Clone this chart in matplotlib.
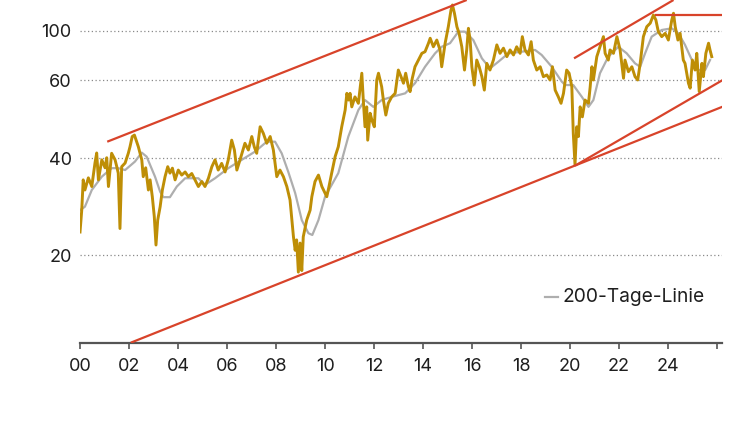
import numpy as np
import matplotlib
matplotlib.use("Agg")
import matplotlib.pyplot as plt
from matplotlib.ticker import FixedLocator, FixedFormatter, NullLocator

plt.rcParams["font.family"] = ["Inter", "DejaVu Sans"]

# ── data ─────────────────────────────────────────────────────────────
price_year = [
    2000.00, 2000.07, 2000.13, 2000.20, 2000.34, 2000.48, 2000.61, 2000.68, 2000.75, 2000.89,
    2001.02, 2001.09, 2001.16, 2001.29, 2001.43, 2001.50, 2001.56, 2001.63, 2001.70, 2001.84,
    2001.97, 2002.04, 2002.13, 2002.22, 2002.31, 2002.38, 2002.52, 2002.58, 2002.68, 2002.79,
    2002.86, 2002.95, 2003.03, 2003.10, 2003.17, 2003.27, 2003.36, 2003.47, 2003.58, 2003.67,
    2003.77, 2003.88, 2004.01, 2004.15, 2004.29, 2004.42, 2004.56, 2004.69, 2004.83, 2004.97,
    2005.10, 2005.24, 2005.38, 2005.51, 2005.64, 2005.78, 2005.92, 2006.05, 2006.19, 2006.30,
    2006.40, 2006.53, 2006.73, 2006.87, 2007.01, 2007.11, 2007.21, 2007.35, 2007.48, 2007.62,
    2007.76, 2007.89, 2008.03, 2008.16, 2008.30, 2008.44, 2008.57, 2008.71, 2008.78, 2008.84,
    2008.91, 2008.98, 2009.05, 2009.11, 2009.25, 2009.39, 2009.46, 2009.59, 2009.73, 2009.87,
    2010.07, 2010.16, 2010.27, 2010.41, 2010.54, 2010.68, 2010.82, 2010.89, 2010.96, 2011.02,
    2011.09, 2011.22, 2011.36, 2011.50, 2011.56, 2011.63, 2011.70, 2011.74, 2011.84, 2011.91,
    2012.01, 2012.11, 2012.18, 2012.31, 2012.38, 2012.48, 2012.58, 2012.72, 2012.86, 2012.99,
    2013.10, 2013.20, 2013.29, 2013.40, 2013.47, 2013.56, 2013.67, 2013.81, 2013.95, 2014.08,
    2014.22, 2014.29, 2014.42, 2014.56, 2014.69, 2014.76, 2014.90, 2015.03, 2015.14, 2015.20,
    2015.28, 2015.38, 2015.47, 2015.58, 2015.69, 2015.78, 2015.85, 2015.92, 2015.99, 2016.09,
    2016.19, 2016.29, 2016.40, 2016.50, 2016.60, 2016.73, 2016.87, 2017.01, 2017.14, 2017.28,
    2017.42, 2017.55, 2017.69, 2017.82, 2017.96, 2018.05, 2018.16, 2018.30, 2018.41, 2018.50,
    2018.64, 2018.78, 2018.91, 2019.05, 2019.18, 2019.28, 2019.39, 2019.52, 2019.63, 2019.73,
    2019.86, 2019.96, 2020.07, 2020.13, 2020.20, 2020.27, 2020.34, 2020.41, 2020.50, 2020.61,
    2020.75, 2020.82, 2020.89, 2020.95, 2021.09, 2021.22, 2021.36, 2021.43, 2021.56, 2021.63,
    2021.77, 2021.91, 2022.04, 2022.18, 2022.24, 2022.38, 2022.52, 2022.65, 2022.76, 2022.86,
    2022.99, 2023.13, 2023.27, 2023.40, 2023.50, 2023.60, 2023.74, 2023.88, 2024.01, 2024.15,
    2024.22, 2024.29, 2024.40, 2024.49, 2024.62, 2024.69, 2024.83, 2024.90, 2024.99, 2025.10,
    2025.17, 2025.27, 2025.38, 2025.44, 2025.54, 2025.65, 2025.71, 2025.78,
]
price_value = [
    23.6, 27.6, 34.3, 31.9, 34.8, 32.7, 38.7, 41.6, 34.3, 39.6,
    37.4, 40.2, 32.7, 41.5, 39.6, 37.7, 36.0, 24.2, 37.7, 38.7,
    41.5, 43.5, 46.8, 47.3, 45.1, 43.5, 39.6, 35.1, 37.4, 31.9,
    34.3, 30.4, 26.4, 21.5, 25.7, 28.3, 31.9, 35.1, 37.7, 36.0,
    37.3, 34.3, 36.8, 35.5, 36.3, 35.1, 35.9, 34.3, 32.7, 33.9,
    32.7, 34.7, 37.7, 39.6, 36.8, 38.6, 36.3, 39.6, 45.6, 42.5,
    36.8, 39.6, 44.6, 42.5, 46.8, 43.5, 41.5, 50.2, 47.9, 44.6,
    46.8, 42.5, 35.1, 36.8, 35.1, 32.7, 29.7, 22.8, 20.7, 22.3,
    17.7, 21.8, 17.9, 22.8, 25.7, 27.6, 30.4, 33.9, 35.5, 32.7,
    30.4, 32.7, 36.0, 40.5, 43.5, 50.2, 56.6, 63.8, 60.8, 63.8,
    57.9, 62.2, 59.4, 73.7, 60.8, 50.2, 57.9, 45.6, 55.3, 52.7,
    50.2, 70.2, 73.7, 66.9, 60.8, 54.6, 59.4, 62.2, 63.8, 75.4,
    71.9, 68.6, 73.7, 66.9, 64.6, 71.1, 77.2, 81.0, 85.0, 86.0,
    91.4, 94.7, 89.1, 93.5, 87.1, 77.2, 91.4, 102.9, 116.0, 120.2,
    113.3, 102.9, 98.1, 89.1, 75.4, 87.1, 101.7, 93.5, 77.2, 67.7,
    81.0, 77.2, 71.9, 65.3, 79.1, 75.4, 81.0, 90.3, 85.0, 88.2,
    83.0, 87.1, 84.0, 89.1, 85.0, 95.8, 87.1, 84.0, 92.4, 81.0,
    75.4, 77.2, 71.9, 72.8, 70.2, 77.2, 65.3, 62.2, 59.4, 63.8,
    75.4, 73.7, 66.9, 47.9, 38.2, 50.2, 46.8, 57.9, 53.9, 60.8,
    59.4, 66.9, 77.2, 70.2, 83.0, 89.1, 95.8, 85.0, 81.0, 87.1,
    85.0, 95.8, 87.1, 71.1, 81.0, 74.5, 77.2, 71.9, 70.2, 79.1,
    95.8, 102.9, 105.5, 111.9, 108.0, 99.3, 95.8, 98.1, 93.5, 108.0,
    113.3, 102.9, 93.5, 98.1, 81.0, 79.1, 68.6, 66.2, 81.0, 75.4,
    85.0, 64.6, 79.1, 71.9, 85.0, 91.4, 87.1, 83.0,
]

ma200_year = [
    2000.00, 2000.20, 2000.48, 2000.89, 2001.29, 2001.56, 2001.84, 2002.24, 2002.52, 2002.72,
    2003.06, 2003.27, 2003.40, 2003.67, 2003.95, 2004.29, 2004.83, 2005.10, 2005.51, 2006.05,
    2006.60, 2007.14, 2007.62, 2007.96, 2008.23, 2008.50, 2008.78, 2009.05, 2009.32, 2009.48,
    2009.73, 2010.00, 2010.54, 2010.95, 2011.36, 2011.63, 2011.97, 2012.31, 2012.72, 2013.27,
    2013.67, 2014.08, 2014.49, 2014.76, 2015.10, 2015.44, 2015.71, 2016.05, 2016.40, 2016.73,
    2017.07, 2017.48, 2018.03, 2018.57, 2018.84, 2019.25, 2019.66, 2019.80, 2020.13, 2020.48,
    2020.75, 2020.95, 2021.22, 2021.56, 2021.97, 2022.31, 2022.65, 2022.86, 2023.06, 2023.33,
    2023.74, 2024.15, 2024.42, 2024.69, 2024.97, 2025.24, 2025.51, 2025.71,
]
ma200_value = [
    27.6, 28.3, 31.9, 35.1, 37.3, 37.3, 36.8, 39.1, 41.7, 40.5,
    35.1, 31.5, 30.3, 30.3, 32.7, 34.7, 34.7, 33.1, 34.7, 37.3,
    39.6, 42.0, 45.1, 45.1, 41.5, 36.3, 31.2, 25.7, 23.4, 23.1,
    25.7, 30.4, 36.0, 46.8, 56.6, 60.8, 57.9, 60.8, 62.2, 63.8,
    68.6, 77.2, 85.0, 89.1, 91.4, 99.3, 99.3, 93.5, 82.0, 76.3,
    80.0, 85.0, 86.0, 87.1, 84.0, 77.2, 69.4, 67.7, 67.7, 62.2,
    57.9, 60.8, 73.7, 83.0, 89.1, 85.0, 79.1, 77.2, 85.0, 95.8,
    100.5, 101.7, 98.1, 90.3, 81.0, 75.4, 75.4, 81.0,
]

# trend lines: (start year, start value, end year, end value)
trend_upper_long = [2001.11, 45.1, 2015.78, 124.6]
trend_lower_long = [2002.07, 10.67, 2026.23, 58.0]
trend_lower_short = [2020.20, 37.97, 2026.23, 70.2]
trend_upper_short = [2020.16, 82.0, 2024.22, 124.6]
trend_top_flat = [2023.47, 111.9, 2026.23, 111.9]

ytick_values = [20, 40, 70, 100]
ytick_labels = ["20", "40", "60", "100"]
xtick_years = list(range(2000, 2027, 2))
xtick_labels = [f"{y % 100:02d}" for y in range(2000, 2025, 2)] + [""]

GOLD = "#BE8E06"
GREY = "#AEAEAE"
RED = "#D8432A"
TEXT = "#1E1E1E"

# ── figure ───────────────────────────────────────────────────────────
fig = plt.figure(figsize=(7.5, 4.21), dpi=100)
ax = fig.add_axes([0.1067, 0.186, 0.8560, 0.814])

ax.set_yscale("log")
ax.set_xlim(2000, 2026.2)
ax.set_ylim(10.67, 124.6)

ax.yaxis.set_major_locator(FixedLocator(ytick_values))
ax.yaxis.set_major_formatter(FixedFormatter(ytick_labels))
ax.yaxis.set_minor_locator(NullLocator())
ax.xaxis.set_major_locator(FixedLocator(xtick_years))
ax.xaxis.set_major_formatter(FixedFormatter(xtick_labels))
ax.xaxis.set_minor_locator(NullLocator())

for v in ytick_values:
    ax.axhline(v, color="#8A8A8A", lw=0.9, ls=(0, (1, 2)), zorder=0)

ax.plot(ma200_year, ma200_value, color=GREY, lw=1.6, zorder=2,
        solid_joinstyle="round")
ax.plot(price_year, price_value, color=GOLD, lw=2.1, zorder=3,
        solid_joinstyle="round")

for seg in (trend_upper_long, trend_lower_long, trend_lower_short,
            trend_upper_short, trend_top_flat):
    ax.plot([seg[0], seg[2]], [seg[1], seg[3]], color=RED, lw=1.6,
            zorder=4, solid_capstyle="butt")

for side in ("top", "right", "left"):
    ax.spines[side].set_visible(False)
ax.spines["bottom"].set_color("#555555")
ax.spines["bottom"].set_linewidth(1.6)

ax.tick_params(axis="y", length=0, pad=6, labelsize=13, labelcolor=TEXT)
ax.tick_params(axis="x", length=4, width=1.2, color="#555555", pad=7,
               labelsize=13, labelcolor=TEXT)

# legend
ax.plot([2018.98, 2019.51], [14.8, 14.8], color=GREY, lw=1.6, zorder=5)
ax.text(2019.71, 14.8, "200-Tage-Linie", fontsize=13.8, color=TEXT,
        va="center", ha="left")

fig.savefig("out.png", dpi=100)
